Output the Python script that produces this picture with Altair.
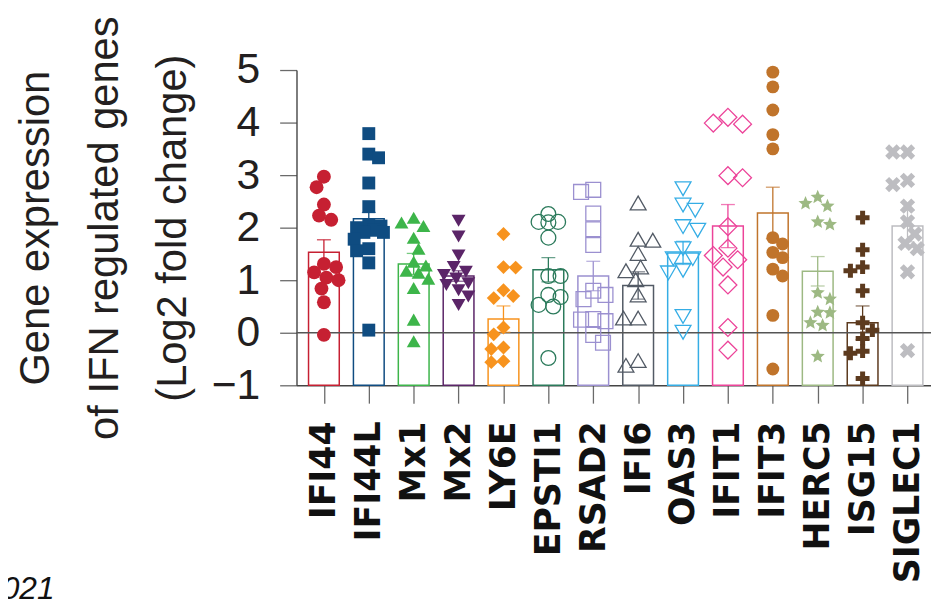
import math
import altair as alt
import pandas as pd

# ---------------- data ----------------
genes = ["IFI44", "IFI44L", "Mx1", "Mx2", "LY6E", "EPSTI1", "RSAD2",
         "IFI6", "OAS3", "IFIT1", "IFIT3", "HERC5", "ISG15", "SIGLEC1"]
colors = ["#C62032", "#0F4C81", "#3DB54A", "#5B2568", "#F7931E", "#2B7A5B",
          "#9B90D0", "#525A65", "#35ADE5", "#EC4399", "#C0742B", "#9DB983",
          "#5C3A1E", "#BDBDC1"]
means = [1.53, 2.17, 1.31, 1.08, 0.26, 1.20, 1.08, 0.90, 1.52, 2.03, 2.28, 1.17, 0.19, 2.03]
sems = [0.24, 0.12, 0.20, 0.10, 0.25, 0.23, 0.28, 0.26, 0.22, 0.41, 0.49, 0.28, 0.32, 0.30]

ifi44 = [2.97, 2.77, 2.44, 2.23, 2.15, 1.31, 1.25, 1.15, 1.05, 1.00, 0.84, 0.58, -0.04]
ifi44l = [3.79, 3.40, 3.33, 2.85, 2.40, 2.05, 2.03, 2.00, 1.95, 1.91, 1.91, 1.78, 1.60, 1.56, 1.33, 0.05]
mx1 = [2.19, 2.10, 2.03, 1.81, 1.60, 1.35, 1.28, 1.18, 1.14, 1.03, 0.85, 0.25, -0.16]
mx2 = [2.13, 1.83, 1.47, 1.25, 1.16, 1.10, 1.03, 0.94, 0.91, 0.81, 0.69, 0.53]
ly6e = [1.88, 1.25, 1.24, 0.81, 0.70, 0.66, 0.10, -0.03, -0.28, -0.31, -0.54, -0.56]
epsti1 = [2.26, 2.11, 2.11, 2.10, 1.81, 1.08, 1.08, 0.72, 0.68, 0.53, 0.50, -0.48]
rsad2 = [2.72, 2.68, 2.27, 1.97, 1.67, 0.80, 0.72, 0.64, 0.26, 0.25, 0.22, -0.04, -0.19]
ifi6 = [2.47, 1.78, 1.76, 1.51, 1.25, 1.18, 1.01, 0.72, 0.28, 0.28, -0.53, -0.62]
oas3 = [2.74, 2.43, 2.33, 2.02, 1.95, 1.60, 1.41, 1.41, 1.19, 1.14, 0.31, 0.01]
ifit1 = [4.10, 3.99, 3.97, 2.99, 2.95, 2.02, 1.61, 1.47, 1.39, 1.25, 0.91, 0.10, -0.33]
ifit3 = [4.96, 4.68, 4.24, 3.77, 3.50, 1.81, 1.69, 1.53, 1.43, 1.21, 1.08, 0.33, -0.69]
herc5 = [2.58, 2.46, 2.41, 2.11, 2.06, 0.76, 0.64, 0.39, 0.38, 0.19, 0.14, -0.45]
isg15 = [2.19, 1.58, 1.25, 1.18, 0.80, 0.19, 0.05, -0.11, -0.35, -0.39, -0.87]
siglec1 = [3.44, 3.44, 2.90, 2.82, 2.41, 2.11, 1.88, 1.70, 1.60, 1.16, -0.34]

series = [ifi44, ifi44l, mx1, mx2, ly6e, epsti1, rsad2, ifi6, oas3,
          ifit1, ifit3, herc5, isg15, siglec1]

y_title = ["Gene expression", "of IFN regulated genes", "(Log2 fold change)"]
y_ticks = [-1, 0, 1, 2, 3, 4, 5]
note = "2021"

# ---------------- marker styles ----------------
def star_path():
    pts = []
    for k in range(10):
        r = 1.0 if k % 2 == 0 else 0.45
        a = -math.pi / 2 + k * math.pi / 5
        pts.append((r * math.cos(a), r * math.sin(a)))
    return "M" + " L".join(f"{x:.3f},{y:.3f}" for x, y in pts) + " Z"


def plus_pts(w=0.36):
    return [(-w, -1), (w, -1), (w, -w), (1, -w), (1, w), (w, w), (w, 1),
            (-w, 1), (-w, w), (-1, w), (-1, -w), (-w, -w)]


def poly(pts):
    return "M" + " L".join(f"{x:.3f},{y:.3f}" for x, y in pts) + " Z"


PLUS = poly(plus_pts(0.36))
c45 = math.cos(math.pi / 4)
XSHAPE = poly([((x - y) * c45 * 1.02, (x + y) * c45 * 1.02) for x, y in plus_pts(0.34)])
STAR = star_path()

# shape, filled, marker width (px)
styles = [("circle", True, 14), ("square", True, 13), ("triangle-up", True, 14),
          ("triangle-down", True, 14), ("diamond", True, 14), ("circle", False, 15),
          ("square", False, 15), ("triangle-up", False, 16), ("triangle-down", False, 16),
          ("diamond", False, 18), ("circle", True, 13), (STAR, True, 15),
          (PLUS, True, 14), (XSHAPE, True, 16)]

# ---------------- layout helpers ----------------
W, H = 640, 318
X_DOMAIN = [-0.5, 13.413]
PX_X = W / (X_DOMAIN[1] - X_DOMAIN[0])
PX_Y = H / 6.0


def spread(vals, d, maxoff=15.0, steps=13):
    """Deterministic dodge of overlapping points within the bar width."""
    order = sorted(range(len(vals)), key=lambda i: -vals[i])
    cands = [-maxoff + 2 * maxoff * k / (steps - 1) for k in range(steps)]
    placed, offs = [], [0.0] * len(vals)
    for n, i in enumerate(order):
        y = vals[i] * PX_Y
        best, bestp = 0.0, None
        for c in cands:
            pen = 0.0
            for xo, yo in placed:
                dist = math.hypot(c - xo, y - yo)
                if dist < d:
                    pen += (d - dist) ** 2
            pen += 0.02 * c * c + (0.01 * c if n % 2 else -0.01 * c)
            if bestp is None or pen < bestp:
                best, bestp = c, pen
        offs[i] = best
        placed.append((best, y))
    return offs


rows = []
for gi, (g, vals) in enumerate(zip(genes, series)):
    offs = spread(vals, styles[gi][2] * 0.9)
    for v, o in zip(vals, offs):
        rows.append({"gene": g, "idx": gi, "value": v, "xpos": gi + o / PX_X})
points = pd.DataFrame(rows)

summary = pd.DataFrame({
    "gene": genes,
    "idx": list(range(len(genes))),
    "mean": means,
    "lo": [m - s for m, s in zip(means, sems)],
    "hi": [m + s for m, s in zip(means, sems)],
})

color_scale = alt.Scale(domain=genes, range=colors)
xscale = alt.Scale(domain=X_DOMAIN, nice=False, zero=False)
yscale = alt.Scale(domain=[-1, 5], nice=False, zero=False)

label_expr = "[" + ",".join(f"'{g}'" for g in genes) + "][datum.value]"

x_axis = alt.Axis(values=list(range(len(genes))), labelExpr=label_expr, title=None,
                  grid=False, labelAngle=270, labelFont="DejaVu Sans", labelFontWeight="bold",
                  labelFontSize=35, labelColor="#111111", labelPadding=18,
                  labelOverlap=False, labelFlush=False, labelBound=False,
                  tickSize=18, tickColor="#6a6a6a", tickWidth=1.3,
                  domainColor="#444444", domainWidth=1.4)

y_axis = alt.Axis(values=y_ticks, format="d", grid=False, title=y_title,
                  labelFont="Liberation Sans", labelFontSize=43, labelColor="#231F20",
                  labelPadding=20, tickSize=17, tickColor="#6a6a6a", tickWidth=1.3,
                  domainColor="#444444", domainWidth=1.4,
                  titleFont="Liberation Sans", titleFontSize=42,
                  titleFontWeight="normal", titleColor="#231F20",
                  titleLineHeight=69, titleAngle=270, titleBaseline="alphabetic",
                  titleAlign="center", titleX=-250, titleY=H / 2)

bars = alt.Chart(summary).mark_bar(filled=False, width=31, strokeWidth=1.5).encode(
    x=alt.X("idx:Q", scale=xscale, axis=x_axis),
    y=alt.Y("mean:Q", scale=yscale, axis=y_axis),
    y2=alt.datum(-1),
    color=alt.Color("gene:N", scale=color_scale, legend=None),
)

zero = alt.Chart(pd.DataFrame({"z": [0]})).mark_rule(color="#555555", strokeWidth=1.3).encode(
    y=alt.Y("z:Q", scale=yscale)
)

err = alt.Chart(summary).mark_rule(strokeWidth=1.3).encode(
    x=alt.X("idx:Q", scale=xscale),
    y=alt.Y("lo:Q", scale=yscale),
    y2="hi:Q",
    color=alt.Color("gene:N", scale=color_scale, legend=None),
)
cap_hi = alt.Chart(summary).mark_tick(orient="horizontal", size=14, thickness=1.3).encode(
    x=alt.X("idx:Q", scale=xscale),
    y=alt.Y("hi:Q", scale=yscale),
    color=alt.Color("gene:N", scale=color_scale, legend=None),
)
cap_lo = alt.Chart(summary).mark_tick(orient="horizontal", size=14, thickness=1.3).encode(
    x=alt.X("idx:Q", scale=xscale),
    y=alt.Y("lo:Q", scale=yscale),
    color=alt.Color("gene:N", scale=color_scale, legend=None),
)

point_layers = []
for gi, g in enumerate(genes):
    shape, filled, wpx = styles[gi]
    point_layers.append(
        alt.Chart(points).transform_filter(alt.datum.gene == g).mark_point(
            shape=shape, filled=filled, size=wpx * wpx, opacity=1,
            strokeWidth=1.3, color=colors[gi]
        ).encode(
            x=alt.X("xpos:Q", scale=xscale),
            y=alt.Y("value:Q", scale=yscale),
        )
    )

note_layer = alt.Chart(pd.DataFrame({"t": [note]})).mark_text(
    font="Liberation Sans", fontStyle="italic", fontSize=32, align="right",
    baseline="alphabetic", color="#111111"
).encode(x=alt.value(-244), y=alt.value(534), text="t:N")

chart = alt.layer(bars, zero, err, cap_hi, cap_lo, *point_layers, note_layer).properties(
    width=W, height=H,
    autosize=alt.AutoSizeParams(type="none"),
    padding={"left": 291, "top": 60, "right": 0, "bottom": 215},
    background="white",
).configure_view(strokeWidth=0, stroke="transparent")

chart.save("out.html", embed_options={"renderer": "svg", "actions": False})
